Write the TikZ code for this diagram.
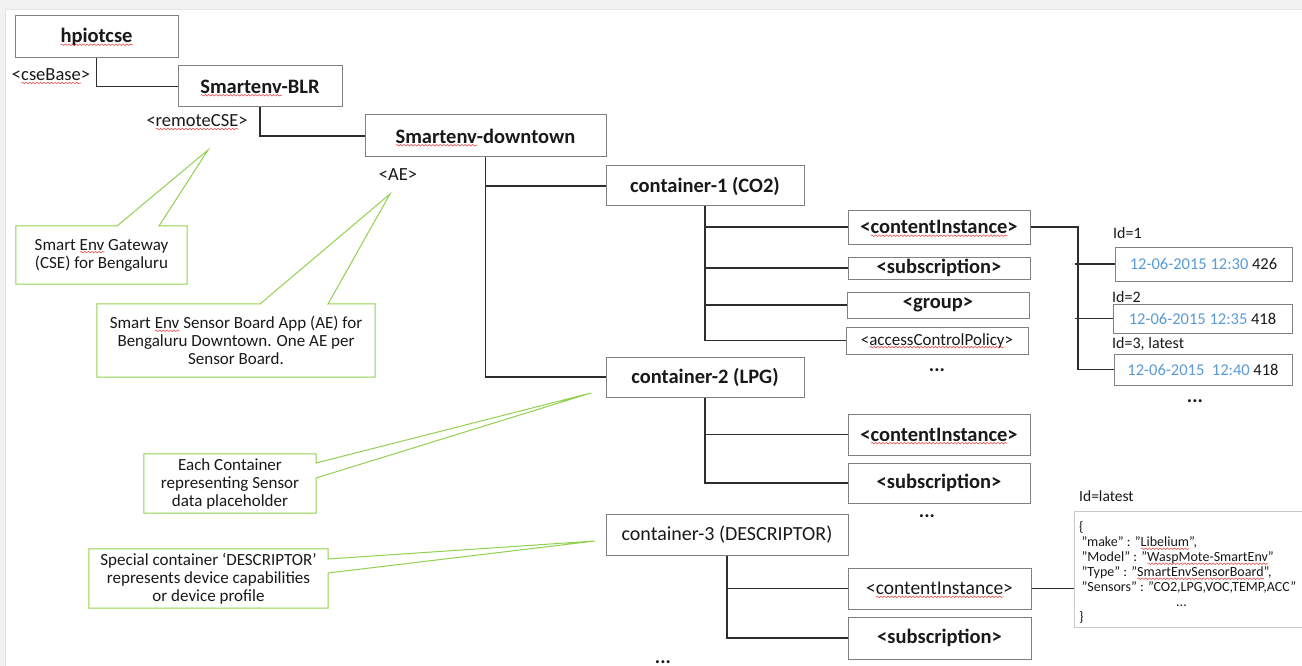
\documentclass[tikz,border=0pt]{standalone}
\usepackage{fontspec}
\setmainfont{Carlito}
\usetikzlibrary{calc,decorations.pathmorphing}

\definecolor{boxgray}{RGB}{128,128,128}
\definecolor{jsongray}{RGB}{200,200,200}
\definecolor{linegray}{RGB}{45,45,45}
\definecolor{calloutgreen}{RGB}{146,208,80}
\definecolor{stampblue}{RGB}{91,155,213}
\definecolor{wavered}{RGB}{232,72,72}
\definecolor{inkgray}{RGB}{25,25,25}
\definecolor{framegray}{RGB}{242,242,242}
\definecolor{frameedge}{RGB}{228,228,228}

% red wavy underline (spell-check mark) drawn under a word
\newsavebox\wavebox
\newlength\wavelen
\newcommand\spellwave[1]{%
  \sbox\wavebox{#1}\setlength\wavelen{\wd\wavebox}%
  \rlap{\smash{\raisebox{-3.2pt}{\tikz[x=1pt,y=1pt]\draw[wavered,line width=0.55pt,
      decorate,decoration={snake,amplitude=0.8pt,segment length=3.6pt}]
      (0,0) -- (\wavelen,0);}}}%
  \usebox\wavebox}
\newcommand\fsz[2]{\fontsize{#1}{#2}\selectfont}

\begin{document}
\begin{tikzpicture}[x=1pt,y=-1pt,
  tree/.style={draw=boxgray, line width=1pt, inner sep=0pt, text=inkgray},
  title/.style={tree, font=\bfseries\fsz{20.5}{24}},
  item/.style={tree, font=\bfseries\fsz{20.5}{24}},
  plainitem/.style={tree, font=\fsz{20}{24}},
  stamp/.style={tree, font=\fsz{16.5}{20}},
  tag/.style={font=\fsz{18.5}{22}, text=inkgray, inner sep=0pt},
  idlabel/.style={font=\fsz{16}{18}, text=inkgray, anchor=west, inner sep=0pt},
  note/.style={align=center, font=\fsz{17}{18}, text=inkgray, inner sep=0pt},
  dots/.style={font=\bfseries\fsz{20}{20}, text=inkgray, inner sep=0pt},
  link/.style={draw=linegray, line width=1.1pt},
  pointer/.style={draw=calloutgreen, line width=1pt, line join=miter},
]
\useasboundingbox (0,0) rectangle (1302,666);

% page frame
\fill[white] (0,0) rectangle (1302,666);
\fill[framegray] (0,0) rectangle (1302,9.5);
\fill[framegray] (0,0) rectangle (5.5,666);
\draw[frameedge, line width=1pt] (5.5,666) |- (1302,10);

% resource tree
\node[title, minimum width=163pt, minimum height=42pt] (hp) at (96.5,37) {\spellwave{hpiotcse}};
\node[title, minimum width=164pt, minimum height=41pt] (blr) at (260,86.5) {\spellwave{Smartenv}-BLR};
\node[title, minimum width=241pt, minimum height=42pt] (dt) at (485.5,136) {\spellwave{Smartenv}-downtown};

\node[tag] (tcse) at (51,75) {<\spellwave{cseBase}>};
\node[tag] (trem) at (197,121) {<\spellwave{remoteCSE}>};
\node[tag] (tae) at (398,175) {<AE>};

\node[item, minimum width=198pt, minimum height=40pt] (c1) at (705,186) {container-1 (CO2)};
\node[item, minimum width=198pt, minimum height=40pt] (c2) at (705,377) {container-2 (LPG)};
\node[plainitem, minimum width=242pt, minimum height=41pt] (c3) at (727,534.5) {container-3 (DESCRIPTOR)};

\node[item, minimum width=182pt, minimum height=34pt] (c1ci) at (939,227) {<\spellwave{contentInstance}>};
\node[item, minimum width=182pt, minimum height=22pt] (c1sub) at (939,268) {<subscription>};
\node[item, minimum width=182pt, minimum height=26pt] (c1grp) at (938,305) {<group>};
\node[tree, font=\fsz{17}{20}, minimum width=182pt, minimum height=27pt] (c1acp) at (937,340.5) {<\spellwave{accessControlPolicy}>};
\node[dots] (c1more) at (937,370) {...};

\node[item, minimum width=182pt, minimum height=41pt] (c2ci) at (939,434.5) {<\spellwave{contentInstance}>};
\node[item, minimum width=182pt, minimum height=40pt] (c2sub) at (939,483) {<subscription>};
\node[dots] (c2more) at (927,516) {...};

\node[plainitem, font=\fsz{19.5}{24}, minimum width=183pt, minimum height=41pt] (c3ci) at (939.5,588.5) {<\spellwave{contentInstance}>};
\node[item, minimum width=183pt, minimum height=42pt] (c3sub) at (939.5,638) {<subscription>};
\node[dots] (c3more) at (663,662) {...};

% content instances of container-1
\node[idlabel] (id1) at (1113,233) {Id=1};
\node[stamp, minimum width=177pt, minimum height=34pt] (d1) at (1203.5,264) {\textcolor{stampblue}{12-06-2015 12:30} 426};
\node[idlabel] (id2) at (1112,297) {Id=2};
\node[stamp, minimum width=179pt, minimum height=29pt] (d2) at (1202.5,318.5) {\textcolor{stampblue}{12-06-2015 12:35} 418};
\node[idlabel] (id3) at (1112,344) {Id=3, latest};
\node[stamp, minimum width=178pt, minimum height=31pt] (d3) at (1203,369.5) {\textcolor{stampblue}{12-06-2015\ \ 12:40} 418};
\node[dots] (dmore) at (1195,401) {...};

% descriptor content
\node[idlabel, font=\fsz{15.5}{18}] (idl) at (1079,496) {Id=latest};
\node[draw=jsongray, line width=1pt, minimum width=231pt, minimum height=116pt] (json) at (1189.5,569) {};
\node[anchor=west, inner sep=0pt, align=left, font=\fsz{14}{15}, text=inkgray] (jsontext) at (1079,572.5)
  {\{\\
   \,"make" : "\spellwave{Libelium}",\\
   \,"Model" : "\spellwave{WaspMote-SmartEnv}"\\
   \,"Type" : "\spellwave{SmartEnvSensorBoard}",\\
   \,"Sensors" : "CO2,LPG,VOC,TEMP,ACC"\\
   \hspace*{97pt}...\\
   \}};

% tree connectors
\draw[link] (hp.south) |- (blr.west);
\draw[link] (blr.south) |- (dt.west);
\draw[link] (dt.south) |- (c1.west);
\draw[link] (dt.south) |- (c2.west);
\draw[link] (c1.south) |- (c1ci.west);
\draw[link] (c1.south) |- (c1sub.west);
\draw[link] (c1.south) |- (c1grp.west);
\draw[link] (c1.south) |- (c1acp.west);
\draw[link] (c2.south) |- (c2ci.west);
\draw[link] (c2.south) |- (c2sub.west);
\draw[link] (c3.south) |- (c3ci.west);
\draw[link] (c3.south) |- (c3sub.west);

\coordinate (cibus) at (1078,227);
\draw[link] (c1ci.east) -- (cibus) |- (d3.west);
\draw[link] ($(cibus |- d1.west)+(-3,0)$) -- (d1.west);
\draw[link] ($(cibus |- d2.west)+(-3,0)$) -- (d2.west);
\draw[link] (c3ci.east) -- (c3ci.east -| json.west);

% callouts
\node[note, minimum width=171pt, minimum height=58pt] (k1) at (101.5,255)
  {Smart \spellwave{Env} Gateway\\(CSE) for Bengaluru};
\coordinate (tip1) at (208,150);
\draw[pointer] (k1.north west) -- (117,226) -- (tip1) -- (159,226)
  -- (k1.north east) -- (k1.south east) -- (k1.south west) -- cycle;

\node[note, minimum width=278pt, minimum height=73pt] (k2) at (236,340.5)
  {Smart \spellwave{Env} Sensor Board App (AE) for\\Bengaluru Downtown. One AE per\\Sensor Board.};
\coordinate (tip2) at (390,194);
\draw[pointer] (k2.north west) -- (260,304) -- (tip2) -- (328,304)
  -- (k2.north east) -- (k2.south east) -- (k2.south west) -- cycle;

\node[note, minimum width=172pt, minimum height=59pt] (k3) at (230,483.5)
  {Each Container\\representing Sensor\\data placeholder};
\coordinate (tip3) at (591,393);
\draw[pointer] (k3.north west) -- (k3.north east) -- (316,463) -- (tip3)
  -- (316,478) -- (k3.south east) -- (k3.south west) -- cycle;

\node[note, minimum width=239pt, minimum height=59pt] (k4) at (208.5,578.5)
  {Special container ‘DESCRIPTOR’\\represents device capabilities\\or device profile};
\coordinate (tip4) at (595,541);
\draw[pointer] (k4.north west) -- (k4.north east) -- (328,559) -- (tip4)
  -- (328,573) -- (k4.south east) -- (k4.south west) -- cycle;

\end{tikzpicture}
\end{document}
